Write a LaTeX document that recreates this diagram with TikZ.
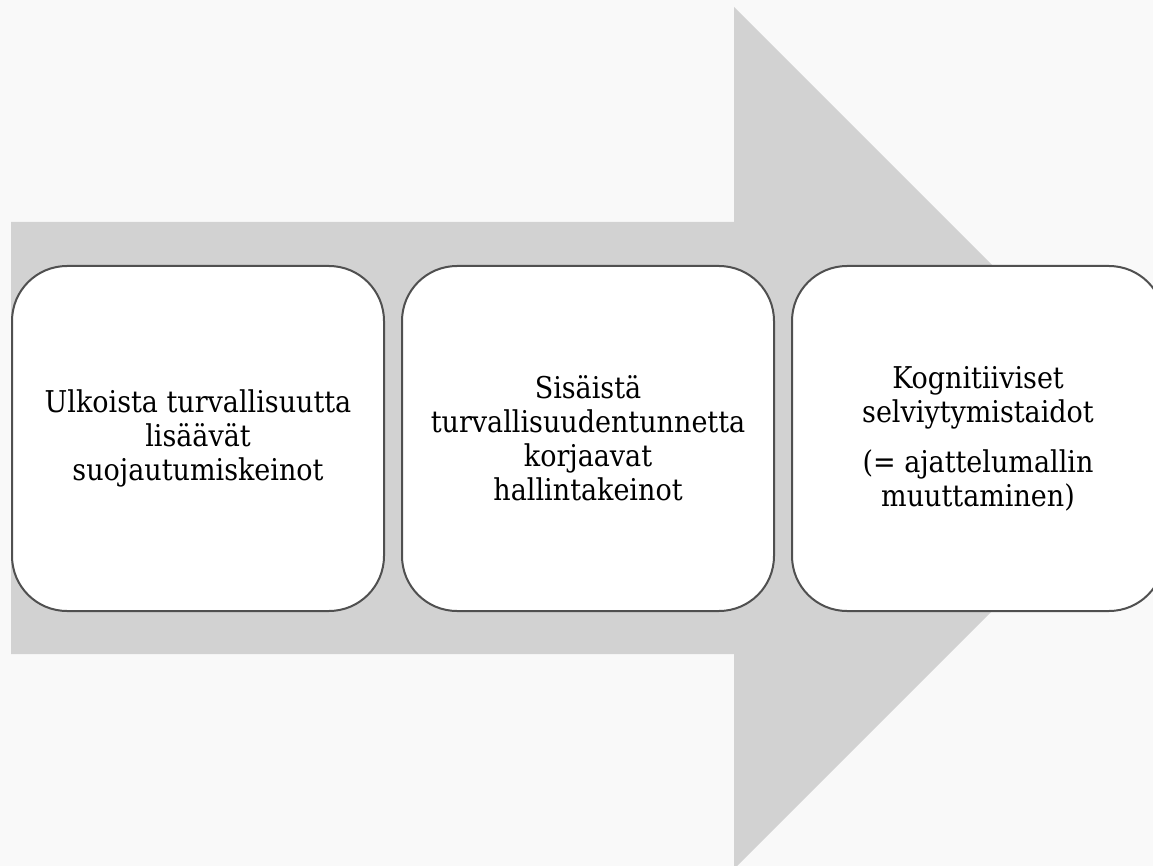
\documentclass[tikz,border=0pt]{standalone}
\usepackage{fontspec}
\setmainfont{DejaVu Serif Condensed}
\definecolor{bg}{HTML}{F9F9F9}
\definecolor{arrowgray}{HTML}{D2D2D2}
\definecolor{boxline}{HTML}{505050}
\begin{document}
\begin{tikzpicture}[x=1pt,y=-1pt,
  stagebox/.style={draw=boxline, fill=white, line width=2pt, rounded corners=55pt,
    minimum width=372pt, minimum height=345pt, align=center, inner sep=0pt,
    font=\fontsize{30}{34}\selectfont}]
\useasboundingbox (0,0) rectangle (1153,866);
\fill[bg] (0,0) rectangle (1153,866);
\fill[arrowgray] (11,222) -- (734,222) -- (734,7) -- (1165,438) -- (734,869) -- (734,654) -- (11,654) -- cycle;
\node[stagebox] (b1) at (198,438.5) {Ulkoista turvallisuutta\\lisäävät\\suojautumiskeinot};
\node[stagebox] (b2) at (588,438.5) {Sisäistä\\turvallisuudentunnetta\\korjaavat\\hallintakeinot};
\node[stagebox] (b3) at (978,438.5) {Kognitiiviset\\selviytymistaidot\\[16pt](= ajattelumallin\\muuttaminen)};
\end{tikzpicture}
\end{document}
